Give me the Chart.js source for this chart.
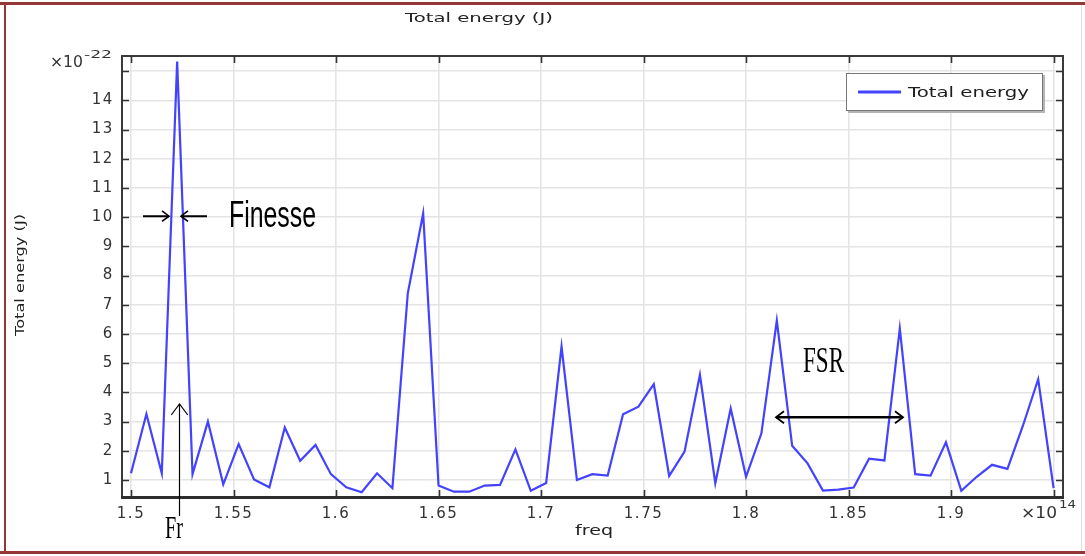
<!DOCTYPE html>
<html>
<head>
<meta charset="utf-8">
<script src="https://cdn.jsdelivr.net/npm/chart.js@4.4.1/dist/chart.umd.min.js"></script>
<style>
  html, body { margin: 0; padding: 0; background: #fff; overflow: hidden; }
  canvas { display: block; }
</style>
</head>
<body>
<canvas id="c" width="1085" height="556"></canvas>
<script>
// Frequency sweep (×10^14 Hz)
const freq = [
  1.5, 1.5075, 1.515, 1.5225, 1.53, 1.5375, 1.545, 1.5525, 1.56, 1.5675,
  1.575, 1.5825, 1.59, 1.5975, 1.605, 1.6125, 1.62, 1.6275, 1.635, 1.6425,
  1.65, 1.6575, 1.665, 1.6725, 1.68, 1.6875, 1.695, 1.7025, 1.71, 1.7175,
  1.725, 1.7325, 1.74, 1.7475, 1.755, 1.7625, 1.77, 1.7775, 1.785, 1.7925,
  1.8, 1.8075, 1.815, 1.8225, 1.83, 1.8375, 1.845, 1.8525, 1.86, 1.8675,
  1.875, 1.8825, 1.89, 1.8975, 1.905, 1.9125, 1.92, 1.9275, 1.935, 1.9425,
  1.95
];
// Total energy (×10^-22 J)
const energy = [
  1.23, 3.26, 1.23, 15.33, 1.2, 3.0, 0.85, 2.23, 1.02, 0.75,
  2.8, 1.66, 2.2, 1.2, 0.75, 0.58, 1.23, 0.72, 7.39, 10.13,
  0.81, 0.6, 0.6, 0.81, 0.83, 2.05, 0.63, 0.9, 5.57, 1.0,
  1.2, 1.15, 3.25, 3.51, 4.28, 1.14, 1.97, 4.6, 0.89, 3.45,
  1.11, 2.6, 6.46, 2.17, 1.57, 0.64, 0.67, 0.74, 1.73, 1.67,
  6.19, 1.2, 1.15, 2.29, 0.63, 1.11, 1.52, 1.38, 2.85, 4.45,
  0.72
];
const xTicks = [1.5, 1.55, 1.6, 1.65, 1.7, 1.75, 1.8, 1.85, 1.9, 1.95];
const xTickLabels = ['1.5', '1.55', '1.6', '1.65', '1.7', '1.75', '1.8', '1.85', '1.9', ''];
const yTicks = [1, 2, 3, 4, 5, 6, 7, 8, 9, 10, 11, 12, 13, 14, 15];
const yTickLabels = ['1', '2', '3', '4', '5', '6', '7', '8', '9', '10', '11', '12', '13', '14', ''];

const LINE_BLUE = 'rgb(66,66,255)';
const TICK_TEXT = '#333333';

// Draw text squeezed or stretched horizontally to a given width
function fitText(ctx, text, x, y, width, font, color, align) {
  ctx.save();
  ctx.letterSpacing = '0px';
  ctx.font = font;
  ctx.textBaseline = 'alphabetic';
  ctx.textAlign = 'left';
  const m = ctx.measureText(text).width;
  const sx = width / m;
  const left = align === 'center' ? x - width / 2 : x;
  ctx.translate(left, y);
  ctx.scale(sx, 1);
  ctx.fillStyle = color;
  ctx.fillText(text, 0, 0);
  ctx.restore();
}

function chevron(ctx, tx, ty, dx, dy, size) {
  // open arrow head whose tip is at (tx,ty), pointing along (dx,dy)
  const px = -dy, py = dx;
  ctx.beginPath();
  ctx.moveTo(tx - dx * size + px * size * 0.75, ty - dy * size + py * size * 0.75);
  ctx.lineTo(tx, ty);
  ctx.lineTo(tx - dx * size - px * size * 0.75, ty - dy * size - py * size * 0.75);
  ctx.stroke();
}

const decor = {
  id: 'decor',
  beforeDraw(chart) {
    const ctx = chart.ctx;
    ctx.save();
    ctx.fillStyle = '#ffffff';
    ctx.fillRect(0, 0, chart.width, chart.height);
    // page frame
    ctx.fillStyle = '#953735';
    ctx.fillRect(0, 2, chart.width, 3);
    ctx.fillRect(0, 551, chart.width, 3);
    ctx.fillRect(4, 2, 2, 552);
    ctx.fillStyle = '#dcdcdc';
    ctx.fillRect(1081, 5, 1, 546);
    ctx.restore();
    ctx.letterSpacing = '1.6px';
  },
  beforeDatasetsDraw(chart) {
    chart.ctx.letterSpacing = '0px';
  },
  afterDatasetsDraw(chart) {
    const ctx = chart.ctx;
    const ca = chart.chartArea;
    const xs = chart.scales.x, ys = chart.scales.y;
    ctx.save();
    ctx.letterSpacing = '0px';

    // axes box
    ctx.strokeStyle = '#3a3a3a';
    ctx.lineWidth = 2;
    ctx.strokeRect(ca.left, ca.top, ca.right - ca.left, ca.bottom - ca.top);
    ctx.fillStyle = '#2e2e2e';
    ctx.fillRect(ca.left - 1, ca.bottom - 1, ca.right - ca.left + 2, 3);

    // inward tick marks on all four sides
    ctx.lineWidth = 1.6;
    ctx.strokeStyle = '#333';
    ctx.beginPath();
    xTicks.forEach(v => {
      const px = Math.round(xs.getPixelForValue(v)) + 0.5;
      ctx.moveTo(px, ca.bottom); ctx.lineTo(px, ca.bottom - 7);
      ctx.moveTo(px, ca.top); ctx.lineTo(px, ca.top + 7);
    });
    yTicks.forEach(v => {
      const py = Math.round(ys.getPixelForValue(v)) + 0.5;
      ctx.moveTo(ca.left, py); ctx.lineTo(ca.left + 7, py);
      ctx.moveTo(ca.right, py); ctx.lineTo(ca.right - 7, py);
    });
    ctx.stroke();

    // axis exponents
    const yTop = ys.getPixelForValue(15);
    fitText(ctx, '\u00d710', 50, yTop - 4, 33, '15px "DejaVu Sans"', TICK_TEXT);
    fitText(ctx, '-22', 84, yTop - 13, 28, '10px "DejaVu Sans"', TICK_TEXT);
    fitText(ctx, '\u00d710', 1021, 518, 36, '15px "DejaVu Sans"', TICK_TEXT);
    fitText(ctx, '14', 1059, 508, 17, '11px "DejaVu Sans"', TICK_TEXT);

    // titles
    fitText(ctx, 'Total energy (J)', 479, 22, 148, '13px "DejaVu Sans"', '#222', 'center');
    fitText(ctx, 'freq', 594, 535, 38, '14px "DejaVu Sans"', '#222', 'center');
    ctx.save();
    ctx.translate(24, 275);
    ctx.rotate(-Math.PI / 2);
    fitText(ctx, 'Total energy (J)', 0, 0, 122, '13px "DejaVu Sans"', '#222', 'center');
    ctx.restore();

    // legend
    ctx.fillStyle = '#b4b4b4';
    ctx.fillRect(848, 75, 197, 38);
    ctx.fillStyle = '#ffffff';
    ctx.fillRect(846, 73, 197, 38);
    ctx.strokeStyle = '#777';
    ctx.lineWidth = 1;
    ctx.strokeRect(846.5, 73.5, 196, 37);
    ctx.strokeStyle = LINE_BLUE;
    ctx.lineWidth = 3;
    ctx.beginPath();
    ctx.moveTo(858, 92); ctx.lineTo(901, 92);
    ctx.stroke();
    fitText(ctx, 'Total energy', 908, 97, 121, '14px "DejaVu Sans"', '#1e1e1e');

    // Finesse: arrows pointing at the peak width at 10
    const yF = ys.getPixelForValue(10) - 1;
    ctx.strokeStyle = '#000';
    ctx.lineWidth = 2;
    ctx.beginPath();
    ctx.moveTo(143, yF); ctx.lineTo(169, yF);
    ctx.moveTo(207, yF); ctx.lineTo(181, yF);
    ctx.stroke();
    ctx.lineWidth = 1.6;
    chevron(ctx, 169, yF, 1, 0, 7);
    chevron(ctx, 181, yF, -1, 0, 7);
    fitText(ctx, 'Finesse', 229, 227, 87, '37px "Liberation Sans"', '#000');

    // Fr: resonance marker
    ctx.lineWidth = 1.2;
    ctx.beginPath();
    ctx.moveTo(179.5, 516); ctx.lineTo(179.5, 404);
    ctx.stroke();
    chevron(ctx, 179.5, 404, 0, -1, 11);
    fitText(ctx, 'Fr', 165, 538, 18, '31px "Liberation Serif"', '#000');

    // FSR: spacing between neighbouring resonances
    const yS = ys.getPixelForValue(3.15);
    ctx.lineWidth = 2.4;
    ctx.beginPath();
    ctx.moveTo(776, yS); ctx.lineTo(903, yS);
    ctx.stroke();
    ctx.lineWidth = 1.8;
    chevron(ctx, 776, yS, -1, 0, 8);
    chevron(ctx, 903, yS, 1, 0, 8);
    fitText(ctx, 'FSR', 803, 372, 41, '35px "Liberation Serif"', '#000');

    ctx.restore();
  }
};

const points = freq.map((f, i) => ({ x: f, y: energy[i] }));

new Chart(document.getElementById('c'), {
  type: 'line',
  data: {
    datasets: [{
      label: 'Total energy',
      data: points,
      borderColor: LINE_BLUE,
      borderWidth: 2.2,
      pointRadius: 0,
      tension: 0,
      fill: false
    }]
  },
  options: {
    responsive: false,
    animation: false,
    events: [],
    layout: { padding: { top: 56, right: 22, left: 0, bottom: 0 } },
    plugins: {
      legend: { display: false },
      tooltip: { enabled: false },
      title: { display: false }
    },
    scales: {
      x: {
        type: 'linear',
        min: 1.4956,
        max: 1.9546,
        afterBuildTicks: s => { s.ticks = xTicks.map(v => ({ value: v })); },
        afterFit: s => { s.height = 59; },
        grid: { color: '#e4e4e4', lineWidth: 1.6, drawTicks: false },
        border: { display: false },
        ticks: {
          padding: 8,
          maxRotation: 0,
          autoSkip: false,
          color: TICK_TEXT,
          font: { family: 'DejaVu Sans', size: 15 },
          callback: (v, i) => xTickLabels[i]
        }
      },
      y: {
        type: 'linear',
        min: 0.418,
        max: 15.52,
        afterBuildTicks: s => { s.ticks = yTicks.map(v => ({ value: v })); },
        afterFit: s => { s.width = 122; },
        grid: { color: '#e4e4e4', lineWidth: 1.6, drawTicks: false },
        border: { display: false },
        ticks: {
          padding: 8,
          autoSkip: false,
          color: TICK_TEXT,
          font: { family: 'DejaVu Sans', size: 15 },
          callback: (v, i) => yTickLabels[i]
        }
      }
    }
  },
  plugins: [decor]
});
</script>
</body>
</html>
